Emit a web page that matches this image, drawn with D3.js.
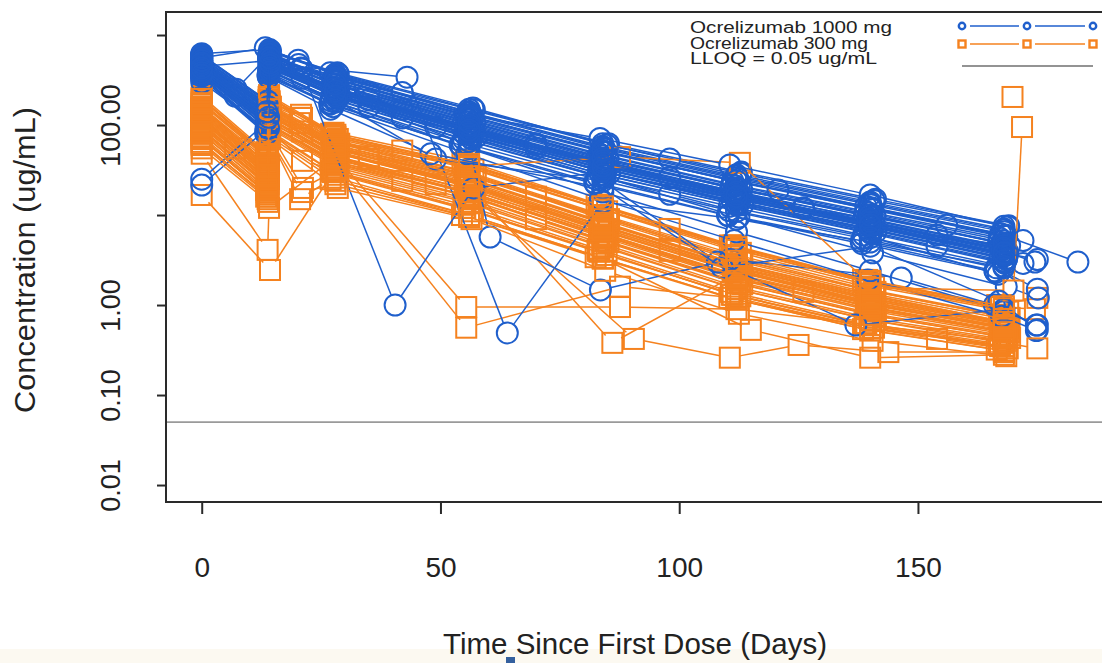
<!DOCTYPE html>
<html>
<head>
<meta charset="utf-8">
<script src="https://cdn.jsdelivr.net/npm/d3@7"></script>
<style>
  html, body { margin: 0; padding: 0; background: #ffffff; }
  svg { display: block; font-family: "Liberation Sans", Arial, Helvetica, sans-serif; }
</style>
</head>
<body>
<svg id="chart" width="1102" height="663"></svg>
<script>
// ---- Dose groups and legend labels ----
const groupNames = ["Ocrelizumab 1000 mg", "Ocrelizumab 300 mg"];
const lloqLabel = "LLOQ = 0.05 ug/mL";
const lloqValue = 0.05;

// ---- Axis ticks ----
const xTicks = [0, 50, 100, 150];
const yTicks = [1000, 100, 10, 1, 0.1, 0.01];
const yTickLabels = { 100: "100.00", 1: "1.00", 0.1: "0.10", 0.01: "0.01" };
const xTitle = "Time Since First Dose (Days)";
const yTitle = "Concentration (ug/mL)";

// ---- Individual profiles, 1000 mg arm: [day, concentration ug/mL] ----
const subjects1000 = [
  [[0,520],[13.6,150],[14.1,610],[27.5,330],[55.2,128],[83.6,52],[111.2,24],[139.1,12.5],[167.3,6.2]],
  [[0,410],[13.8,110],[14.2,470],[28.1,240],[56.3,88],[84.2,35],[112.4,16],[140.3,8.1],[168.4,3.9],[174.5,3.0]],
  [[0,360],[13.5,95],[14.0,400],[27.2,200],[54.8,70],[82.9,27],[110.5,12.5],[138.6,6.0],[166.8,2.2]],
  [[0,590],[13.9,175],[14.3,660],[28.4,380],[56.8,155],[84.9,60],[112.9,29],[140.8,14.5],[168.9,7.4]],
  [[0,450],[14.2,520],[27.8,260],[55.6,96],[83.8,38],[111.6,18.5],[139.5,9.0],[167.6,4.4]],
  [[0,480],[14.0,135],[14.4,540],[28.6,270],[57.2,105],[85.1,42],[113.1,19],[141.0,9.8],[169.2,4.6]],
  [[0,330],[13.4,80],[13.9,350],[26.8,170],[54.1,60],[82.3,23],[110.1,10],[138.1,5.1],[166.1,2.4]],
  [[0,540],[13.6,160],[14.0,600],[27.6,310],[55.5,118],[83.3,48],[111.0,22],[139.0,11],[167.0,5.6]],
  [[0,430],[13.8,115],[14.3,490],[28.0,230],[56.0,84],[84.0,33],[112.0,15],[140.0,7.4],[168.0,3.5],[172.0,2.9]],
  [[0,390],[13.9,105],[14.1,450],[28.3,215],[56.6,78],[84.6,30],[112.6,14],[140.6,7.0],[168.6,3.3]],
  [[0,620],[14.2,690],[27.9,360],[55.9,140],[83.9,58],[111.9,27],[139.9,13.5],[167.9,6.8]],
  [[0,500],[13.5,140],[14.0,560],[27.4,290],[54.9,110],[82.8,44],[110.8,20],[138.8,10],[166.9,5.0]],
  [[0,370],[14.1,100],[14.5,420],[28.8,205],[57.5,74],[85.4,29],[113.3,13],[141.2,6.5]],
  [[0,460],[13.6,130],[14.1,510],[27.7,255],[55.3,93],[83.5,37],[111.4,17.5],[139.3,8.6],[167.4,4.2]],
  [[0,560],[13.8,165],[14.2,630],[20.3,470],[28.2,340],[56.4,132],[84.4,54],[112.3,25],[140.4,12],[168.3,6.0]],
  [[0,420],[13.9,120],[14.4,480],[28.5,235],[56.9,86],[84.8,34],[112.8,16],[140.9,7.8],[168.8,3.7]],
  [[0,350],[13.5,88],[14.0,380],[27.1,185],[54.6,64],[82.6,25],[110.4,11.2],[138.4,5.5],[166.4,2.6],[175.0,1.5]],
  [[0,510],[13.7,145],[14.3,570],[28.0,300],[55.8,114],[83.7,46],[111.8,21],[139.7,10.5],[167.8,5.2]],
  [[0,440],[14.0,118],[14.5,500],[28.7,245],[57.0,90],[85.0,36],[112.9,16.5],[140.7,8.2],[168.7,4.0]],
  [[0,400],[13.6,108],[14.1,460],[27.3,225],[55.0,80],[83.1,31],[111.1,14.5],[139.2,7.1],[167.2,3.4]],
  [[0,570],[13.8,170],[14.2,640],[20.8,430],[28.1,350],[56.2,138],[84.1,56],[112.1,26],[140.1,13],[168.1,6.5]],
  [[0,380],[13.9,98],[14.3,430],[28.4,210],[56.5,76],[84.5,30],[112.5,13.5],[140.5,6.8],[168.5,3.2]],
  [[0,470],[13.5,132],[14.0,530],[27.5,265],[55.4,98],[83.4,40],[111.3,18],[139.4,9.2],[167.5,4.5]],
  [[0,530],[13.7,155],[14.2,590],[28.3,320],[56.7,124],[84.7,50],[112.7,23],[140.6,11.5],[168.6,5.8],[183.5,3.0]],
  [[0,340],[13.4,85],[13.9,360],[26.9,175],[54.4,58],[82.5,22],[110.3,9.8],[138.3,4.8],[166.3,2.3]],
  [[0,490],[13.8,138],[14.3,550],[28.0,280],[56.1,102],[84.0,41],[112.0,19.5],[140.2,9.5],[168.2,4.8]],
  [[0,420],[13.6,112],[14.1,470],[27.8,238],[55.7,87],[83.7,35],[111.7,16],[139.6,7.9],[167.7,3.8]],
  [[0,600],[13.9,182],[14.4,670],[28.6,370],[57.1,148],[85.2,62],[113.0,30],[141.1,15],[169.0,7.6]],
  [[0,455],[13.7,122],[14.2,505],[27.6,250],[55.5,92],[83.6,36],[111.5,17],[139.6,8.4],[167.6,4.1]],
  [[0,395],[13.8,102],[14.2,440],[28.2,220],[56.3,82],[84.3,32],[112.3,15],[140.3,7.5],[168.3,3.6]],
  [[0,380],[13.8,90],[14.2,400],[28.0,180],[56.0,55],[84.0,18],[112.0,6.5],[140.0,2.4],[168.0,0.85],[175.0,0.6]],
  [[0,350],[13.6,80],[14.1,370],[27.5,160],[55.5,48],[83.5,15],[111.5,5.2],[139.5,1.9],[167.5,0.75],[174.8,0.52]],
  [[0,420],[13.9,105],[14.3,450],[28.3,200],[56.5,70],[84.5,26],[112.5,9.5],[140.5,3.8],[168.5,1.6],[175.2,1.2]],
  [[0,470],[13.8,130],[14.2,520],[20.2,525],[40.5,1.0],[57.0,20],[84.0,30],[112.0,15],[140.0,7.5],[168.0,3.6]],
  [[0,430],[13.7,120],[14.2,480],[43.0,340],[64.0,0.49],[84.0,14],[112.0,9],[140.0,5],[168.0,2.6]],
  [[0,400],[14.0,110],[14.3,450],[28.0,220],[56.0,60],[60.4,5.7],[83.5,1.47],[110.6,3.2],[146.5,2.0],[166.0,1.0],[174.8,0.6]],
  [[0,560],[13.3,720],[26.9,380],[56.2,129],[83.4,71],[110.6,36],[140.0,16.7],[168.0,7.5]],
  [[0,25],[13.8,110],[14.2,460],[28.0,230],[56.0,85],[84.0,33],[112.0,15.5],[140.0,7.6],[168.0,3.7]],
  [[0,21.5],[14.0,95],[14.4,420],[28.3,205],[56.4,72],[84.3,28],[112.2,12.8],[140.2,6.2],[168.2,2.9]],
  [[0,520],[14.0,150],[14.3,580],[28.0,320],[56.0,120],[84.0,50],[120.7,19],[156.0,7.7],[172.0,5.2]],
  [[0,380],[13.6,100],[14.1,410],[28.0,190],[49.0,42],[84.0,24],[108.0,3.0],[137.0,0.6],[168.0,0.9]],
  [[0,300],[13.5,90],[14.0,340],[27.0,150],[48.0,48],[84.0,20],[109.0,2.6],[140.0,4.5],[167.0,1.1],[175.0,0.53]],
  [[0,450],[7.0,210],[14.0,140],[14.3,500],[21.0,330],[35.0,190],[56.0,95],[84.0,38],[112.0,17],[140.0,8.5],[168.0,4.2]],
  [[0,520],[7.2,250],[14.1,600],[42.0,150],[70.0,60],[98.0,26],[126.0,12],[154.0,6],[168.0,4.6]],
  [[0,380],[14.0,105],[14.2,430],[35.0,160],[49.0,95],[84.0,28],[112.0,13],[140.0,6.4],[168.0,3.0]],
  [[0,600],[13.8,185],[14.3,650],[28.0,370],[42.0,230],[56.0,150],[84.0,62],[98.0,42],[112.0,28],[140.0,14],[168.0,7.0]],
  [[0,470],[14.0,130],[14.5,540],[30.0,250],[56.0,100],[70.0,62],[84.0,40],[112.0,18],[126.0,12],[140.0,9],[168.0,4.3]],
  [[0,410],[13.7,115],[14.2,460],[28.0,210],[42.0,120],[56.0,80],[84.0,31],[112.0,13.5],[140.0,6.6],[154.0,4.5],[168.0,3.1]],
  [[0,560],[13.9,160],[14.2,610],[21.0,420],[28.0,330],[56.0,125],[84.0,52],[112.0,24],[140.0,12],[168.0,5.9]],
  [[0,360],[14.0,92],[14.4,390],[28.0,190],[56.0,66],[84.0,26],[98.0,17],[112.0,11],[140.0,5.6],[168.0,2.7]],
  [[0,490],[13.6,140],[14.1,560],[28.0,285],[35.0,230],[56.0,108],[84.0,43],[112.0,20],[140.0,10],[168.0,4.9]],
  [[0,430],[14.0,122],[14.3,490],[28.0,240],[56.0,88],[70.0,55],[84.0,35],[112.0,16],[140.0,7.8],[168.0,3.8],[175.0,3.2]]
];

// ---- Individual profiles, 300 mg arm: [day, concentration ug/mL] ----
const subjects300 = [
  [[0,120],[13.7,30],[14.1,135],[27.6,52],[55.4,22],[83.6,7.2],[111.4,2.5],[139.3,1.1],[167.4,0.58]],
  [[0,95],[13.8,24],[14.2,110],[28.1,42],[56.2,18],[84.3,5.8],[112.2,2.0],[140.2,0.9],[168.3,0.5]],
  [[0,180],[13.6,45],[14.0,190],[27.3,75],[55.0,35],[83.1,12],[111.0,4.3],[139.0,1.8],[167.0,0.95],[174.5,0.9]],
  [[0,70],[13.9,17],[14.3,82],[28.4,28],[56.8,11],[84.8,3.6],[112.8,1.25],[140.8,0.56],[168.8,0.33]],
  [[0,140],[13.7,34],[14.2,150],[20.5,105],[27.8,60],[55.7,26],[83.8,8.5],[111.7,2.9],[139.6,1.3],[167.6,0.66]],
  [[0,110],[14.0,27],[14.4,125],[28.6,48],[57.1,20],[85.0,6.5],[113.0,2.3],[140.9,1.0],[169.0,0.55]],
  [[0,200],[13.5,48],[14.0,205],[27.1,80],[54.6,38],[82.7,13],[110.6,4.6],[138.5,1.9],[166.6,1.0],[175.0,1.2]],
  [[0,85],[13.8,21],[14.1,96],[27.9,36],[55.8,15],[83.9,4.8],[111.9,1.6],[139.8,0.72],[167.8,0.42]],
  [[0,160],[13.6,38],[14.1,170],[21.0,120],[27.5,66],[55.2,30],[83.3,10],[111.2,3.5],[139.2,1.5],[167.2,0.78]],
  [[0,100],[13.9,26],[14.3,118],[28.2,45],[56.4,19],[84.5,6.1],[112.4,2.1],[140.4,0.95],[168.5,0.52]],
  [[0,130],[13.7,32],[14.2,140],[27.7,56],[55.5,24],[83.5,7.8],[111.5,2.7],[139.4,1.2],[167.5,0.62]],
  [[0,60],[13.8,15],[14.2,72],[21.0,18],[28.0,22],[56.0,9.5],[84.0,3.3],[112.0,1.15],[140.0,0.52],[168.0,0.31]],
  [[0,150],[14.1,36],[14.5,160],[28.8,62],[57.4,27],[85.3,9.0],[113.2,3.1],[141.1,1.4],[169.2,0.72]],
  [[0,115],[13.6,28],[14.0,128],[27.4,50],[55.1,21],[83.2,6.8],[111.2,2.4],[139.1,1.05],[167.1,0.56]],
  [[0,90],[13.8,22],[14.3,102],[28.3,39],[56.6,16],[84.6,5.2],[112.6,1.8],[140.6,0.8],[168.6,0.45]],
  [[0,170],[13.9,42],[14.2,180],[20.8,130],[28.5,70],[56.9,32],[84.9,11],[112.9,3.8],[140.8,1.6],[168.9,0.85]],
  [[0,75],[13.5,19],[14.0,88],[27.2,31],[54.8,13],[82.9,4.2],[110.8,1.4],[138.8,0.63],[166.9,0.37]],
  [[0,125],[13.7,31],[14.1,138],[27.8,54],[55.6,23],[83.7,7.5],[111.6,2.6],[139.6,1.15],[167.7,0.6]],
  [[0,105],[14.0,25],[14.4,115],[28.6,44],[57.0,18.5],[85.1,6.0],[113.1,2.1],[141.0,0.92],[169.1,0.5]],
  [[0,190],[13.6,46],[14.1,200],[27.5,78],[55.3,36],[83.4,12.5],[111.3,4.4],[139.3,1.85],[167.3,0.98]],
  [[0,80],[13.8,20],[14.2,92],[28.1,34],[56.2,14],[84.2,4.5],[112.2,1.5],[140.2,0.68],[168.2,0.4]],
  [[0,145],[13.7,35],[14.2,155],[27.9,58],[55.9,25],[83.9,8.2],[111.9,2.8],[139.9,1.25],[167.9,0.64]],
  [[0,98],[13.9,23],[14.3,108],[28.4,41],[56.7,17],[84.7,5.5],[112.7,1.9],[140.7,0.85],[168.7,0.47]],
  [[0,65],[13.5,16],[14.0,76],[20.6,15],[27.0,25],[54.5,10],[82.5,3.4],[110.5,1.2],[138.5,0.54],[166.5,0.32]],
  [[0,135],[13.8,33],[14.2,145],[28.0,57],[56.1,24.5],[84.1,8.0],[112.1,2.75],[140.1,1.2],[168.1,0.63]],
  [[0,210],[13.6,50],[14.1,215],[27.6,82],[55.4,40],[83.5,13],[111.4,4.6],[139.4,1.9],[167.4,1.0]],
  [[0,88],[13.9,22],[14.4,98],[28.7,37],[57.3,15.5],[85.2,5.0],[113.2,1.7],[141.2,0.76],[169.3,0.43]],
  [[0,155],[13.7,37],[14.2,165],[27.7,64],[55.6,28],[83.6,9.5],[111.6,3.3],[139.6,1.45],[167.6,0.75]],
  [[0,118],[13.8,29],[14.2,130],[28.2,49],[56.3,21],[84.4,7.0],[112.4,2.45],[140.4,1.08],[168.4,0.57]],
  [[0,72],[13.6,18],[14.1,85],[21.2,20],[27.4,30],[55.2,12],[83.3,3.9],[111.2,1.3],[139.2,0.6],[167.2,0.35]],
  [[0,48],[13.8,4.1],[14.1,12],[27.0,40],[56.0,18],[84.0,6],[112.0,2],[140.0,0.9],[168.0,0.5]],
  [[0,16.7],[14.3,2.45],[27.5,30],[55.0,12],[83.0,4],[111.0,1.3],[139.0,0.6],[167.0,0.36]],
  [[0,110],[13.8,27],[14.2,120],[28.0,45],[55.4,0.95],[87.6,0.95],[112.0,0.9],[140.0,0.6],[168.0,0.4]],
  [[0,90],[14.0,22],[14.3,100],[28.0,38],[55.4,0.56],[87.6,1.6],[112.0,1.2],[140.0,0.55],[168.0,0.35]],
  [[0,130],[13.7,32],[14.2,140],[28.0,55],[56.0,22],[86.0,0.38],[112.0,2.2],[140.0,1.0],[168.0,0.55]],
  [[0,100],[14.0,25],[14.3,115],[28.0,44],[56.0,18],[90.5,0.42],[110.6,0.26],[125.0,0.36],[143.8,0.3],[168.0,0.3]],
  [[0,150],[14.0,36],[14.2,160],[28.0,65],[56.0,35],[87.6,44],[112.7,38],[140.0,1.7],[168.0,0.9]],
  [[0,160],[13.8,40],[14.2,170],[28.0,68],[56.0,30],[84.0,10],[112.0,3.6],[140.0,1.55],[170.0,1.45],[171.8,95]],
  [[169.8,205]],
  [[0,70],[13.8,17],[14.2,80],[28.0,26],[56.0,10],[84.0,3.3],[115.0,0.53],[140.0,0.26],[168.0,0.28]],
  [[0,55],[13.9,14],[14.3,70],[28.5,20],[56.5,9],[84.5,2.4],[112.5,0.8],[140.5,0.4],[168.5,0.27]],
  [[0,130],[7.0,55],[14.0,32],[14.3,145],[21.0,85],[35.0,42],[56.0,22],[84.0,7.5],[112.0,2.6],[140.0,1.15],[168.0,0.6]],
  [[0,90],[14.0,21],[14.2,100],[28.0,37],[42.0,24],[56.0,16],[70.0,9],[84.0,5.1],[112.0,1.75],[140.0,0.78],[168.0,0.44]],
  [[0,175],[13.8,44],[14.2,185],[21.0,120],[28.0,74],[56.0,34],[84.0,11.5],[98.0,7],[112.0,4.1],[140.0,1.75],[168.0,0.92]],
  [[0,105],[13.6,25],[14.1,118],[28.0,44],[49.0,22],[84.0,6.0],[112.0,2.1],[126.0,1.4],[140.0,0.95],[168.0,0.5]],
  [[0,62],[14.0,16],[14.3,74],[28.0,24],[56.0,10],[84.0,3.3],[112.0,1.15],[140.0,0.55],[154.0,0.42],[168.0,0.33]],
  [[0,150],[13.7,37],[14.2,158],[28.0,60],[56.0,27],[70.0,16],[84.0,9],[112.0,3.1],[140.0,1.35],[168.0,0.7]],
  [[0,82],[13.9,19],[14.3,90],[21.0,40],[28.0,32],[56.0,13.5],[84.0,4.4],[112.0,1.5],[140.0,0.68],[168.0,0.38],[175.0,0.33]],
  [[0,195],[13.6,47],[14.1,205],[28.0,78],[42.0,52],[56.0,37],[84.0,12.5],[112.0,4.4],[140.0,1.85],[168.0,0.97]],
  [[0,115],[14.0,28],[14.4,128],[28.0,50],[56.0,21],[84.0,6.8],[98.0,4],[112.0,2.4],[140.0,1.05],[168.0,0.55]],
  [[0,140],[13.8,34],[14.2,150],[28.0,58],[35.0,45],[56.0,25],[84.0,8.2],[112.0,2.9],[140.0,1.3],[168.0,0.65]]
];

// ---- Layout ----
const W = 1102, H = 663;
const frame = { left: 166, top: 12, bottom: 502, right: 1112 };
const blue = "#1f5fcc", orange = "#f5821f";

const svg = d3.select("#chart");

// faint warm strip along the bottom edge
svg.append("rect").attr("x", 0).attr("y", 649).attr("width", W).attr("height", H - 649)
  .attr("fill", "#fcf9f1");

const x = d3.scaleLinear().domain([-7.48, 190]).range([frame.left, 1108.95]);
const y = d3.scaleLog().domain([0.00648, 1802]).range([frame.bottom, frame.top]);

svg.append("defs").append("clipPath").attr("id", "plotClip")
  .append("rect").attr("x", frame.left).attr("y", frame.top)
  .attr("width", frame.right - frame.left).attr("height", frame.bottom - frame.top);

// LLOQ reference line
svg.append("line")
  .attr("x1", frame.left).attr("x2", frame.right)
  .attr("y1", y(lloqValue)).attr("y2", y(lloqValue))
  .attr("stroke", "#9a9a9a").attr("stroke-width", 1.6);

// line segments with gaps around each symbol (R "type = b" look)
function gappedSegments(points, gap) {
  const segs = [];
  for (let i = 1; i < points.length; i++) {
    const [x1, y1] = points[i - 1], [x2, y2] = points[i];
    const dx = x2 - x1, dy = y2 - y1, L = Math.hypot(dx, dy);
    if (L <= 2 * gap) continue;
    const ux = dx / L, uy = dy / L;
    segs.push([x1 + ux * gap, y1 + uy * gap, x2 - ux * gap, y2 - uy * gap]);
  }
  return segs;
}

const dataLayer = svg.append("g").attr("clip-path", "url(#plotClip)");

function drawSubject(s, color, shape) {
  const pts = s.map(d => [x(d[0]), y(d[1])]);
  const g = dataLayer.append("g");
  g.selectAll("line").data(gappedSegments(pts, 10)).join("line")
    .attr("x1", d => d[0]).attr("y1", d => d[1])
    .attr("x2", d => d[2]).attr("y2", d => d[3])
    .attr("stroke", color).attr("stroke-width", 1.5);
  if (shape === "circle") {
    g.selectAll("circle").data(s).join("circle")
      .attr("cx", d => x(d[0])).attr("cy", d => y(d[1])).attr("r", 10.5)
      .attr("fill", "none").attr("stroke", color).attr("stroke-width", 2);
  } else {
    g.selectAll("rect").data(s).join("rect")
      .attr("x", d => x(d[0]) - 10).attr("y", d => y(d[1]) - 10)
      .attr("width", 20).attr("height", 20)
      .attr("fill", "none").attr("stroke", color).attr("stroke-width", 2);
  }
}

// subjects of both arms are drawn in alternating order
const nMax = Math.max(subjects1000.length, subjects300.length);
for (let i = 0; i < nMax; i++) {
  if (i < subjects300.length) drawSubject(subjects300[i], orange, "square");
  if (i < subjects1000.length) drawSubject(subjects1000[i], blue, "circle");
}

// frame (right side runs past the canvas)
svg.append("path")
  .attr("d", `M${frame.right},${frame.top}H${frame.left}V${frame.bottom}H${frame.right}`)
  .attr("fill", "none").attr("stroke", "#2a2a2a").attr("stroke-width", 2);

// y axis
const yAxis = svg.append("g").attr("transform", `translate(${frame.left},0)`)
  .call(d3.axisLeft(y).tickValues(yTicks).tickSize(9).tickFormat(d => yTickLabels[d] || ""));
yAxis.select(".domain").remove();
yAxis.selectAll(".tick line").attr("stroke", "#2a2a2a").attr("stroke-width", 2);
yAxis.selectAll(".tick text")
  .attr("x", null).attr("dy", null)
  .attr("transform", "translate(-46,0) rotate(-90)")
  .attr("text-anchor", "middle")
  .attr("font-size", 27).attr("fill", "#222")
  .style("font-family", "'Liberation Sans', Arial, sans-serif");

// x axis
const xAxis = svg.append("g").attr("transform", `translate(0,${frame.bottom})`)
  .call(d3.axisBottom(x).tickValues(xTicks).tickSize(12).tickFormat(d3.format("d")));
xAxis.select(".domain").remove();
xAxis.selectAll(".tick line").attr("stroke", "#2a2a2a").attr("stroke-width", 2);
xAxis.selectAll(".tick text")
  .attr("y", 75).attr("dy", null)
  .attr("font-size", 28).attr("fill", "#222")
  .style("font-family", "'Liberation Sans', Arial, sans-serif");

// axis titles
svg.append("text").attr("x", 635).attr("y", 654)
  .attr("text-anchor", "middle").attr("font-size", 30).attr("fill", "#222")
  .attr("textLength", 384).attr("lengthAdjust", "spacingAndGlyphs")
  .text(xTitle);
svg.append("rect").attr("x", 506).attr("y", 657).attr("width", 9).attr("height", 6)
  .attr("fill", "#34609e");

svg.append("text").attr("transform", "translate(35,260) rotate(-90)")
  .attr("text-anchor", "middle").attr("font-size", 30).attr("fill", "#222")
  .attr("textLength", 306).attr("lengthAdjust", "spacingAndGlyphs")
  .text(yTitle);

// legend
const legendText = [groupNames[0], groupNames[1], lloqLabel];
const legendWidths = [202, 178, 187];
const legendBase = [33, 49, 64];
const legend = svg.append("g");
legend.selectAll("text").data(legendText).join("text")
  .attr("x", 690).attr("y", (d, i) => legendBase[i])
  .attr("font-size", 16).attr("fill", "#222")
  .attr("textLength", (d, i) => legendWidths[i]).attr("lengthAdjust", "spacingAndGlyphs")
  .text(d => d);

const keyX = [962, 1027, 1093];
const keyRows = [{ y: 26, color: blue, shape: "circle" }, { y: 44, color: orange, shape: "square" }];
keyRows.forEach(row => {
  for (let i = 1; i < keyX.length; i++) {
    legend.append("line")
      .attr("x1", keyX[i - 1] + 8).attr("x2", keyX[i] - 8)
      .attr("y1", row.y).attr("y2", row.y)
      .attr("stroke", row.color).attr("stroke-width", 1.5);
  }
  keyX.forEach(kx => {
    if (row.shape === "circle") {
      legend.append("circle").attr("cx", kx).attr("cy", row.y).attr("r", 3.2)
        .attr("fill", "none").attr("stroke", row.color).attr("stroke-width", 2.4);
    } else {
      legend.append("rect").attr("x", kx - 3.5).attr("y", row.y - 3.5)
        .attr("width", 7).attr("height", 7)
        .attr("fill", "none").attr("stroke", row.color).attr("stroke-width", 2.4);
    }
  });
});
legend.append("line").attr("x1", 962).attr("x2", 1093).attr("y1", 66).attr("y2", 66)
  .attr("stroke", "#6f6f6f").attr("stroke-width", 1.3);
</script>
</body>
</html>
